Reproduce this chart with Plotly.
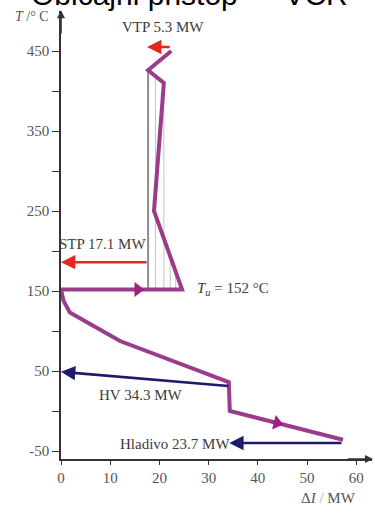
import plotly.graph_objects as go

# Grand composite curve (enthalpy difference in MW vs temperature in °C)
gcc_dH = [22.4, 17.7, 20.9, 18.9, 24.6, 0.0, 0.5, 1.8, 12.0, 34.1, 34.3, 57.3]
gcc_T = [450, 426, 410, 250, 152, 152, 138, 123, 87.5, 36, 0, -36]

# Hatching lines inside the pocket
hatch_x = [19.2, 20.9, 22.2, 23.3]
hatch_top = [418, 410, 193, 174]
hatch_bottom = 152
pocket_x = 17.7
pocket_top = 426

# Utility arrows: (start dH, start T, end dH, end T)
vtp = dict(x0=22.4, y0=455, x1=17.5, y1=455, label="VTP 5.3 MW", lx=20.7, ly=480)
stp = dict(x0=17.7, y0=186, x1=0.0, y1=186, label="STP 17.1 MW", lx=8.5, ly=209)
hv = dict(x0=34.3, y0=31, x1=0.0, y1=49, label="HV 34.3 MW", lx=16.2, ly=20)
hlad = dict(x0=57.3, y0=-40, x1=34.2, y1=-40, label="Hladivo 23.7 MW", lx=23.2, ly=-41)

# Direction markers on the curve
dir_x = [15.6, 43.9]
dir_y = [152, -15]
dir_angle = [0, 14]

y_ticks = [-50, 0, 50, 100, 150, 200, 250, 300, 350, 400, 450]
y_ticklabels = ["-50", "", "50", "", "150", "", "250", "", "350", "", "450"]
x_ticks = [0, 10, 20, 30, 40, 50, 60]

PURPLE = "#9a3b8b"
RED = "#e2281f"
NAVY = "#1f1b6b"
SERIF = "Liberation Serif"
GREY_TXT = "#3c3c3c"

W, H = 375, 513
ml, mr, mt, mb = 61, 3, 11, 54
pw, ph = W - ml - mr, H - mt - mb


def px_x(p):
    return (p - ml) / pw


def px_y(p):
    return (H - mb - p) / ph


fig = go.Figure()

# hatching
for hx, ht in zip(hatch_x, hatch_top):
    fig.add_trace(go.Scatter(x=[hx, hx], y=[ht, hatch_bottom], mode="lines",
                             line=dict(color="#c4c4c4", width=1), hoverinfo="skip"))
fig.add_trace(go.Scatter(x=[pocket_x, pocket_x], y=[pocket_top, hatch_bottom], mode="lines",
                         line=dict(color="#8c8c8c", width=2), hoverinfo="skip"))

# composite curve
fig.add_trace(go.Scatter(x=gcc_dH, y=gcc_T, mode="lines",
                         line=dict(color=PURPLE, width=4), hoverinfo="skip"))

# direction markers
fig.add_trace(go.Scatter(x=dir_x, y=dir_y, mode="markers",
                         marker=dict(symbol="triangle-right", size=13, color="#a01f82",
                                     angle=dir_angle, line=dict(width=0)),
                         hoverinfo="skip"))

annotations = []
for a, col in [(vtp, RED), (stp, RED), (hv, NAVY), (hlad, NAVY)]:
    annotations.append(dict(x=a["x1"], y=a["y1"], ax=a["x0"], ay=a["y0"],
                            xref="x", yref="y", axref="x", ayref="y",
                            text="", showarrow=True, arrowhead=2, arrowsize=1.1,
                            arrowwidth=2.6, arrowcolor=col, standoff=0))
    annotations.append(dict(x=a["lx"], y=a["ly"], xref="x", yref="y", text=a["label"],
                            showarrow=False, font=dict(family=SERIF, size=15, color=GREY_TXT)))

annotations.append(dict(x=27.2, y=152.5, xref="x", yref="y", xanchor="left",
                        text="<i>T</i><sub><i>u</i></sub> = 152 °C", showarrow=False,
                        font=dict(family=SERIF, size=15, color=GREY_TXT)))

# axis arrows
annotations.append(dict(x=0, y=501, ax=0, ay=470, xref="x", yref="y", axref="x", ayref="y",
                        text="", showarrow=True, arrowhead=2, arrowsize=1, arrowwidth=1.6,
                        arrowcolor="#333", standoff=0))
annotations.append(dict(x=63.4, y=-60, ax=58, ay=-60, xref="x", yref="y", axref="x", ayref="y",
                        text="", showarrow=True, arrowhead=2, arrowsize=1, arrowwidth=1.6,
                        arrowcolor="#333", standoff=0))

# axis titles
annotations.append(dict(x=px_x(32), y=px_y(16), xref="paper", yref="paper",
                        xanchor="center", yanchor="middle",
                        text="<i>T</i> /° C", showarrow=False,
                        font=dict(family=SERIF, size=14, color="#555")))
annotations.append(dict(x=px_x(328), y=px_y(498), xref="paper", yref="paper",
                        xanchor="center", yanchor="middle",
                        text="Δ<i>I</i> <span style='color:#aaa'>/</span> MW", showarrow=False,
                        font=dict(family=SERIF, size=15, color="#555")))

# heading of slide (partially cut off at the top)
annotations.append(dict(x=px_x(29), y=px_y(-5), xref="paper", yref="paper",
                        xanchor="left", yanchor="middle",
                        text="Običajni pristop — VCR", showarrow=False,
                        font=dict(family="Liberation Sans", size=30, color="#000")))

fig.update_layout(
    width=W, height=H,
    margin=dict(l=ml, r=mr, t=mt, b=mb),
    paper_bgcolor="white", plot_bgcolor="white",
    showlegend=False,
    annotations=annotations,
    xaxis=dict(range=[0, 63.2], tickvals=x_ticks, showgrid=False, zeroline=False,
               showline=True, linecolor="#333", linewidth=1.5,
               ticks="outside", ticklen=4, tickwidth=1.3, tickcolor="#333",
               tickfont=dict(family=SERIF, size=15, color="#555")),
    yaxis=dict(range=[-60, 500], tickvals=y_ticks, ticktext=y_ticklabels, showgrid=False,
               zeroline=False, showline=True, linecolor="#333", linewidth=1.5,
               ticks="outside", ticklen=7, tickwidth=1.3, tickcolor="#333",
               tickfont=dict(family=SERIF, size=15, color="#555")),
)

fig.write_html("out.html")
